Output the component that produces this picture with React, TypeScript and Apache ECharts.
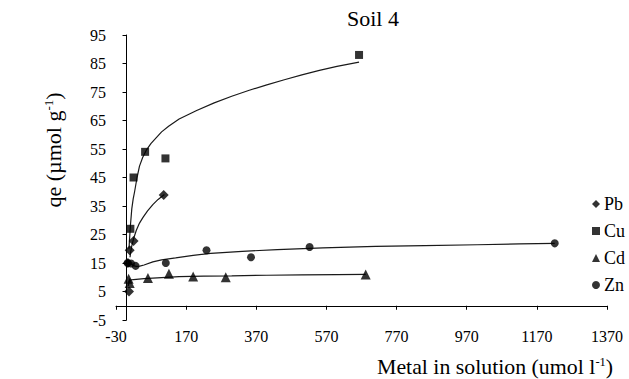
import React, { useEffect, useRef } from "react";
import * as echarts from "echarts";

const xTicks = { min: -30, max: 1370, interval: 200 };
const yTicks = { min: -5, max: 95, interval: 10 };

const pbX = [7, 4, 9, 20, 106];
const pbY = [5, 15, 19.5, 22.7, 38.9];
const cuX = [11, 20, 53, 111, 663];
const cuY = [27, 45, 54, 51.7, 88];
const cdX = [6, 9, 61, 121, 190, 283, 682];
const cdY = [9.5, 8, 9.7, 11.2, 10.3, 10.0, 11.0];
const znX = [3, 13, 26, 112, 228, 355, 522, 1221];
const znY = [15, 14.8, 14, 15, 19.5, 17, 20.6, 21.9];

// fitted curves
const cuFitX = [7, 9, 11, 15, 19, 23, 30, 37, 46, 56, 70, 85, 100, 120, 150, 200, 250, 300, 350, 400, 450, 500, 550, 600, 663];
const cuFitY = [20, 24, 28, 34, 37.5, 40, 45, 49, 52, 54.5, 57, 59, 61, 63, 65.5, 68.5, 71.2, 73.5, 75.6, 77.5, 79.3, 81, 82.6, 84, 85.5];
const pbFitX = [10, 12, 15, 20, 28, 37, 47, 60, 75, 90, 108];
const pbFitY = [17, 19, 21, 23.5, 26.5, 29, 31, 33.3, 35.5, 37.3, 39];
const znFitX = [3, 8, 15, 22, 28, 38, 50, 75, 100, 140, 190, 240, 330, 430, 560, 710, 850, 1000, 1120, 1221];
const znFitY = [16, 15.2, 14.5, 14, 13.8, 13.9, 14.3, 15.4, 16.1, 16.8, 17.7, 18.4, 19.1, 19.7, 20.3, 20.8, 21.1, 21.4, 21.7, 21.9];
const cdFitX = [5, 7, 10, 20, 50, 100, 150, 220, 300, 400, 500, 600, 682];
const cdFitY = [7, 8.2, 9, 9.2, 9.5, 9.9, 10.2, 10.4, 10.5, 10.7, 10.8, 10.9, 11];

const zip = (xs: number[], ys: number[]) => xs.map((x, i) => [x, ys[i]]);

const FONT = "Times New Roman, serif";

export default function App() {
  const ref = useRef<HTMLDivElement>(null);
  useEffect(() => {
    if (!ref.current) return;
    const chart = echarts.init(ref.current, undefined, { renderer: "svg" });
    const fitLine = (name: string, xs: number[], ys: number[]) => ({
      name: name + " fit",
      type: "line",
      data: zip(xs, ys),
      smooth: false,
      showSymbol: false,
      symbol: "none",
      lineStyle: { color: "#1a1a1a", width: 1.2 },
      z: 1,
    });
    const pts = (name: string, xs: number[], ys: number[], symbol: string, size: number) => ({
      name,
      type: "scatter",
      data: zip(xs, ys),
      symbol,
      symbolSize: size,
      itemStyle: { color: "#000" },
      z: 3,
    });
    const sup = (fs: number) => ({ fontSize: fs, fontFamily: FONT, verticalAlign: "top", fill: "#000" });
    chart.setOption({
      animation: false,
      backgroundColor: "#fff",
      grid: { left: 116, right: 22, top: 35, bottom: 59, containLabel: false },
      xAxis: {
        type: "value",
        min: xTicks.min,
        max: xTicks.max,
        interval: xTicks.interval,
        splitLine: { show: false },
        axisLine: { lineStyle: { color: "#000", width: 1 } },
        axisTick: { show: true, length: 4, lineStyle: { color: "#000" } },
        axisLabel: { color: "#000", fontFamily: FONT, fontSize: 16, margin: 8, formatter: (v: number) => String(v) },
      },
      yAxis: {
        type: "value",
        min: yTicks.min,
        max: yTicks.max,
        interval: yTicks.interval,
        splitLine: { show: false },
        axisLine: { show: true, lineStyle: { color: "#000", width: 1 } },
        axisTick: { show: true, length: 4, lineStyle: { color: "#000" } },
        axisLabel: { color: "#000", fontFamily: FONT, fontSize: 16, margin: 10, formatter: (v: number) => String(v) },
      },
      legend: {
        orient: "vertical",
        left: 587,
        top: 190,
        itemWidth: 8,
        itemHeight: 8,
        itemGap: 9,
        data: ["Pb", "Cu", "Cd", "Zn"],
        textStyle: { color: "#000", fontFamily: FONT, fontSize: 18, padding: [0, 0, 0, -1] },
      },
      graphic: [
        {
          type: "text",
          x: 373,
          y: 19,
          scaleX: 1.1,
          style: { text: "Soil 4", fontFamily: FONT, fontSize: 20, fill: "#000", align: "center", verticalAlign: "middle" },
        },
        {
          type: "text",
          x: 53,
          y: 150,
          rotation: Math.PI / 2,
          style: {
            text: "qe (µmol g{sup|-1})",
            fontFamily: FONT,
            fontSize: 22,
            fill: "#000",
            align: "center",
            verticalAlign: "middle",
            rich: { sup: sup(13) },
          },
        },
        {
          type: "text",
          x: 377,
          y: 367,
          scaleX: 1.04,
          style: {
            text: "Metal in solution (umol l{sup|-1})",
            fontFamily: FONT,
            fontSize: 21,
            fill: "#000",
            align: "left",
            verticalAlign: "middle",
            rich: { sup: sup(12) },
          },
        },
      ],
      series: [
        fitLine("Cu", cuFitX, cuFitY),
        fitLine("Pb", pbFitX, pbFitY),
        fitLine("Zn", znFitX, znFitY),
        fitLine("Cd", cdFitX, cdFitY),
        pts("Pb", pbX, pbY, "diamond", 10),
        pts("Cu", cuX, cuY, "rect", 8),
        pts("Cd", cdX, cdY, "triangle", 10),
        pts("Zn", znX, znY, "circle", 8),
      ],
    });
    return () => chart.dispose();
  }, []);
  return <div ref={ref} style={{ width: 629, height: 379, position: "absolute", left: 0, top: 0 }} />;
}
